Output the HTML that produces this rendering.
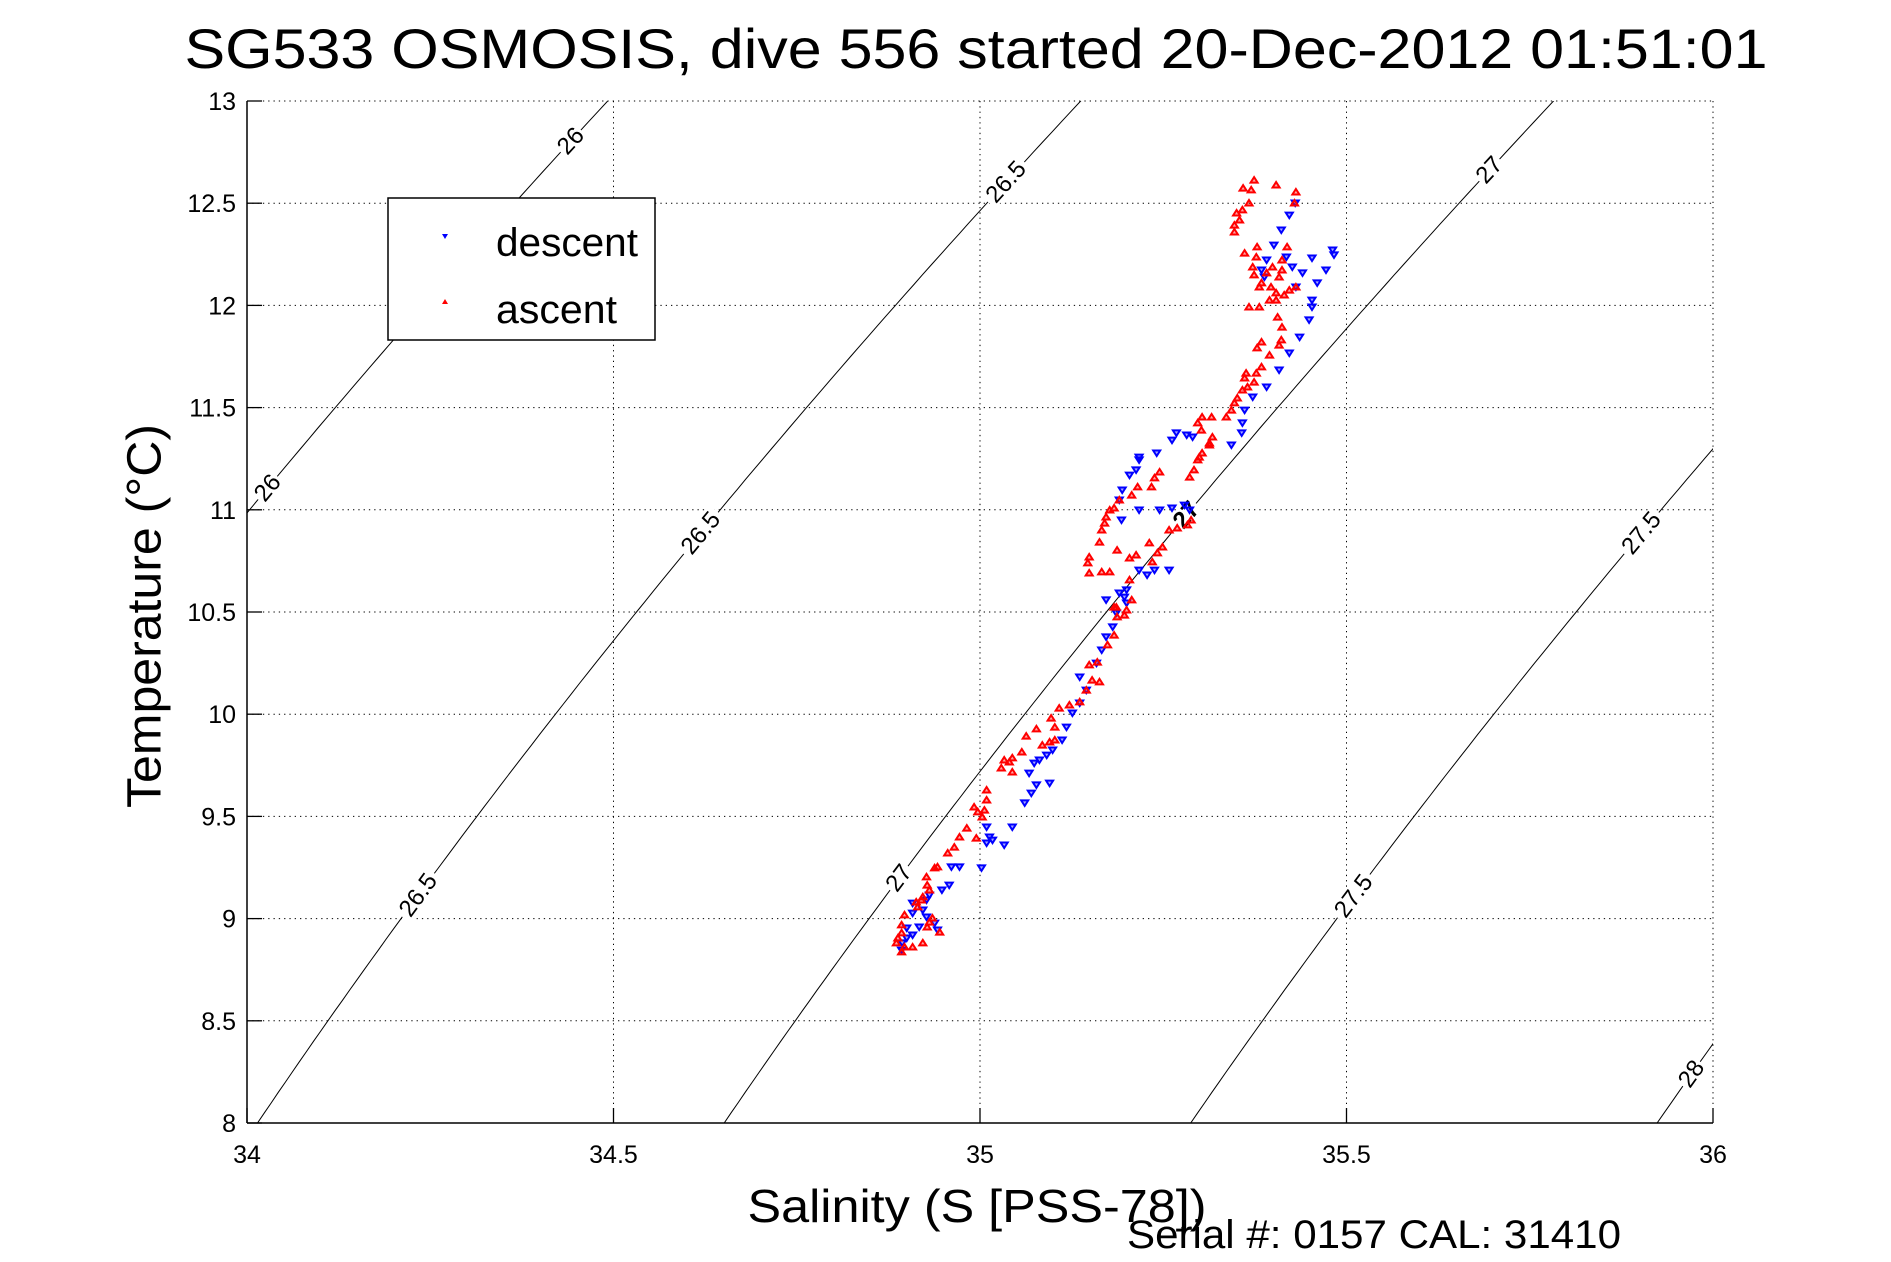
<!DOCTYPE html>
<html><head><meta charset="utf-8"><title>SG533 T-S diagram</title>
<style>html,body{margin:0;padding:0;background:#fff}svg{display:block}text{font-family:"Liberation Sans",Arial,sans-serif}</style>
</head><body>
<svg id="chart" xmlns="http://www.w3.org/2000/svg" width="1891" height="1262" viewBox="0 0 1891 1262">
<rect x="0" y="0" width="1891" height="1262" fill="#fff"/>
<text x="976" y="68" font-size="56" text-anchor="middle" textLength="1583" lengthAdjust="spacingAndGlyphs">SG533 OSMOSIS, dive 556 started 20-Dec-2012 01:51:01</text>
<g id="grid"></g>
<g id="contours"></g>
<g id="descent"></g>
<g id="ascent"></g>
<g id="axes"></g>
<text x="145" y="616" font-size="48" text-anchor="middle" textLength="384" lengthAdjust="spacingAndGlyphs" transform="rotate(-90 145 616)" dominant-baseline="central">Temperature (°C)</text>
<text x="977" y="1222" font-size="46" text-anchor="middle" textLength="459" lengthAdjust="spacingAndGlyphs">Salinity (S [PSS-78])</text>
<text x="1127" y="1248" font-size="40" textLength="494" lengthAdjust="spacingAndGlyphs">Serial #: 0157  CAL: 31410</text>
<g>
<rect x="388" y="198" width="267" height="142" fill="#fff" stroke="#000" stroke-width="1.5"/>
<polygon points="442,234 448,234 445,239" fill="#00f"/>
<text x="496" y="256" font-size="40" textLength="142" lengthAdjust="spacingAndGlyphs">descent</text>
<polygon points="442,304 448,304 445,299" fill="#f00"/>
<text x="496" y="323" font-size="40" textLength="121" lengthAdjust="spacingAndGlyphs">ascent</text>
</g>
</svg>
<script>
const xTicks = [34, 34.5, 35, 35.5, 36];
const yTicks = [8, 8.5, 9, 9.5, 10, 10.5, 11, 11.5, 12, 12.5, 13];
const yTickLabels = ["8","8.5","9","9.5","10","10.5","11","11.5","12","12.5","13"];
const xTickLabels = ["34","34.5","35","35.5","36"];
const sigmaLevels = [26, 26.5, 27, 27.5, 28];
const labelSigma = [26, 26, 26.5, 26.5, 26.5, 27, 27, 27, 27.5, 27.5, 28];
const labelTemp  = [11.107, 12.804, 9.115, 10.886, 12.604, 9.198, 10.975, 12.662, 9.11, 10.886, 8.24];

const descentS = [35.430,35.422,35.411,35.401,35.391,35.384,35.388,35.418,35.426,35.440,35.431,35.453,35.481,35.483,35.472,35.460,35.453,35.453,35.449,35.436,35.422,35.408,35.391,35.372,35.361,35.358,35.357,35.343,35.290,35.282,35.268,35.262,35.241,35.217,35.217,35.213,35.204,35.194,35.190,35.193,35.217,35.245,35.262,35.279,35.286,35.258,35.238,35.228,35.217,35.190,35.172,35.197,35.186,35.200,35.200,35.181,35.172,35.166,35.159,35.136,35.145,35.136,35.126,35.118,35.112,35.099,35.091,35.081,35.074,35.067,35.077,35.095,35.070,35.061,35.044,35.013,35.009,35.017,35.009,35.033,35.002,34.972,34.961,34.958,34.948,34.931,34.927,34.908,34.922,34.908,34.927,34.938,34.917,34.900,34.908,34.900,34.894,34.893,34.942];
const descentT = [12.501,12.442,12.369,12.295,12.222,12.173,12.139,12.237,12.188,12.159,12.090,12.232,12.271,12.247,12.173,12.110,12.026,11.992,11.929,11.845,11.767,11.684,11.601,11.552,11.488,11.425,11.376,11.317,11.356,11.366,11.376,11.341,11.278,11.258,11.244,11.195,11.170,11.097,11.048,10.950,10.999,10.999,11.009,11.023,10.999,10.705,10.705,10.681,10.705,10.593,10.559,10.573,10.495,10.608,10.544,10.427,10.378,10.314,10.250,10.182,10.118,10.055,10.006,9.937,9.874,9.825,9.800,9.776,9.761,9.712,9.654,9.663,9.614,9.566,9.448,9.399,9.370,9.384,9.448,9.360,9.248,9.253,9.253,9.164,9.140,9.115,9.091,9.076,9.042,9.027,9.008,8.978,8.959,8.954,8.920,8.905,8.881,8.846,8.944];

const ascentS = [35.374,35.370,35.367,35.358,35.350,35.354,35.347,35.359,35.404,35.431,35.429,35.347,35.378,35.377,35.361,35.372,35.374,35.384,35.397,35.404,35.408,35.412,35.419,35.412,35.399,35.391,35.381,35.395,35.404,35.415,35.422,35.431,35.367,35.381,35.406,35.412,35.411,35.408,35.384,35.378,35.395,35.384,35.377,35.363,35.361,35.374,35.365,35.358,35.351,35.347,35.343,35.336,35.303,35.297,35.302,35.316,35.317,35.313,35.303,35.299,35.313,35.297,35.292,35.286,35.245,35.238,35.234,35.215,35.207,35.190,35.183,35.177,35.172,35.170,35.166,35.149,35.147,35.149,35.166,35.177,35.187,35.204,35.213,35.231,35.242,35.235,35.249,35.258,35.269,35.283,35.288,35.163,35.183,35.187,35.207,35.200,35.204,35.186,35.197,35.183,35.174,35.160,35.149,35.153,35.163,35.145,35.136,35.122,35.108,35.097,35.102,35.077,35.063,35.085,35.095,35.102,35.057,35.044,35.033,35.040,35.029,35.044,35.009,35.009,34.992,34.997,35.006,35.003,34.982,34.995,34.972,34.965,34.956,34.942,34.938,34.927,34.928,34.931,34.920,34.913,34.922,34.915,34.897,34.935,34.931,34.928,34.945,34.893,34.893,34.888,34.886,34.897,34.893,34.908,34.922];
const ascentT = [12.613,12.565,12.501,12.467,12.452,12.418,12.393,12.574,12.589,12.555,12.501,12.359,12.286,12.237,12.256,12.188,12.149,12.110,12.090,12.061,12.139,12.222,12.286,12.173,12.188,12.159,12.090,12.026,12.026,12.051,12.075,12.090,11.992,11.992,11.943,11.894,11.831,11.806,11.821,11.792,11.757,11.699,11.669,11.669,11.645,11.625,11.601,11.586,11.547,11.523,11.488,11.454,11.454,11.425,11.390,11.454,11.356,11.327,11.278,11.258,11.317,11.244,11.195,11.160,11.185,11.156,11.112,11.112,11.072,11.048,11.009,10.999,10.965,10.935,10.901,10.769,10.740,10.691,10.696,10.696,10.803,10.764,10.779,10.838,10.789,10.745,10.818,10.901,10.911,10.926,10.950,10.842,10.524,10.476,10.559,10.510,10.657,10.524,10.485,10.387,10.339,10.255,10.241,10.167,10.158,10.118,10.060,10.045,10.030,9.981,9.937,9.928,9.893,9.849,9.864,9.874,9.815,9.786,9.776,9.766,9.737,9.717,9.629,9.580,9.546,9.522,9.531,9.497,9.443,9.394,9.399,9.350,9.321,9.253,9.248,9.204,9.164,9.140,9.091,9.081,9.106,9.057,9.018,9.003,8.983,8.959,8.934,8.969,8.930,8.905,8.881,8.861,8.837,8.861,8.881];

const NS = "http://www.w3.org/2000/svg";
const L = 247, R = 1713, TOP = 101, B = 1123;
const sMin = 34, sMax = 36, tMin = 8, tMax = 13;
function xS(s){ return L + (s - sMin) / (sMax - sMin) * (R - L); }
function yT(t){ return B - (t - tMin) / (tMax - tMin) * (B - TOP); }
function mk(tag, attrs, parent){
  const el = document.createElementNS(NS, tag);
  for (const k in attrs) el.setAttribute(k, attrs[k]);
  parent.appendChild(el);
  return el;
}
function sigma0(S, T){
  const rw = 999.842594 + 6.793952e-2*T - 9.095290e-3*T*T + 1.001685e-4*T**3 - 1.120083e-6*T**4 + 6.536332e-9*T**5;
  const A = 8.24493e-1 - 4.0899e-3*T + 7.6438e-5*T*T - 8.2467e-7*T**3 + 5.3875e-9*T**4;
  const Bc = -5.72466e-3 + 1.0227e-4*T - 1.6546e-6*T*T;
  return rw + A*S + Bc*Math.pow(S,1.5) + 4.8314e-4*S*S - 1000;
}
function salForSigma(sig, T){
  let lo = 25, hi = 45;
  for (let i = 0; i < 60; i++){ const m = (lo+hi)/2; if (sigma0(m,T) < sig) lo = m; else hi = m; }
  return (lo+hi)/2;
}
const svg = document.getElementById('chart');
const defs = mk('defs', {}, svg);
const cp = mk('clipPath', {id:'plotclip'}, defs);
mk('rect', {x:L, y:TOP, width:R-L, height:B-TOP}, cp);

const grid = document.getElementById('grid');
xTicks.forEach(function(v){
  const g = mk('line', {x1:xS(v), x2:xS(v), y1:TOP, y2:B, stroke:'#000', 'stroke-width':1, 'stroke-dasharray':'1.3 4'}, grid);
  
  
});
yTicks.forEach(function(v){
  const g = mk('line', {x1:L, x2:R, y1:yT(v), y2:yT(v), stroke:'#000', 'stroke-width':1, 'stroke-dasharray':'1.3 4'}, grid);
  
  
});

const cg = document.getElementById('contours');
cg.setAttribute('clip-path', 'url(#plotclip)');
sigmaLevels.forEach(function(sig){
  let pts = [];
  for (let t = tMin - 0.2; t <= tMax + 0.2; t += 0.05){
    pts.push(xS(salForSigma(sig, t)).toFixed(1) + ',' + yT(t).toFixed(1));
  }
  const pl = mk('polyline', {points:pts.join(' '), fill:'none', stroke:'#000', 'stroke-width':1}, cg);
  
  
});
labelSigma.forEach(function(sig, i){
  const t = labelTemp[i];
  const x = xS(salForSigma(sig, t)), y = yT(t);
  const x2 = xS(salForSigma(sig, t + 0.1)), y2 = yT(t + 0.1);
  const ang = Math.atan2(y2 - y, x2 - x) * 180 / Math.PI;
  const txt = String(sig);
  const w = txt.length * 12 + 6;
  const g = mk('g', {transform:'translate(' + x.toFixed(1) + ',' + y.toFixed(1) + ') rotate(' + ang.toFixed(1) + ')'}, cg);
  
  
  mk('rect', {x:-w/2, y:-10, width:w, height:20, fill:'#fff'}, g);
  const tx = mk('text', {x:0, y:0, 'font-size':24, 'text-anchor':'middle', 'dominant-baseline':'central', 'font-weight': (i === 6) ? 'bold' : 'normal'}, g);
  tx.textContent = txt;
});

function drawSeries(gid, Sarr, Tarr, color, down, name){
  const g = document.getElementById(gid);
  for (let i = 0; i < Sarr.length; i++){
    const x = xS(Sarr[i]), y = yT(Tarr[i]);
    const p = down ? [[x-3.5,y-2.5],[x+3.5,y-2.5],[x,y+3]] : [[x-3.5,y+2.5],[x+3.5,y+2.5],[x,y-3]];
    const m = mk('polygon', {points:p.map(function(q){return q[0].toFixed(1)+','+q[1].toFixed(1);}).join(' '), fill:color, 'fill-opacity':0.35, stroke:color, 'stroke-width':2}, g);
    
    
  }
}
drawSeries('descent', descentS, descentT, '#00f', true, 'descent-point');
drawSeries('ascent', ascentS, ascentT, '#f00', false, 'ascent-point');

const ax = document.getElementById('axes');
const yl = mk('line', {x1:L, x2:L, y1:TOP, y2:B, stroke:'#000', 'stroke-width':1.5}, ax);


const xl = mk('line', {x1:L, x2:R, y1:B, y2:B, stroke:'#000', 'stroke-width':1.5}, ax);


xTicks.forEach(function(v, i){
  const tk = mk('line', {x1:xS(v), x2:xS(v), y1:B, y2:B-15, stroke:'#000', 'stroke-width':1.3}, ax);
  
  
  const lb = mk('text', {x:xS(v), y:B+40, 'font-size':25, 'text-anchor':'middle'}, ax);
  lb.textContent = xTickLabels[i];
  
  
});
yTicks.forEach(function(v, i){
  const tk = mk('line', {x1:L, x2:L+15, y1:yT(v), y2:yT(v), stroke:'#000', 'stroke-width':1.3}, ax);
  
  
  const lb = mk('text', {x:L-11, y:yT(v)+9, 'font-size':25, 'text-anchor':'end'}, ax);
  lb.textContent = yTickLabels[i];
  
  
});
</script>
</body></html>
